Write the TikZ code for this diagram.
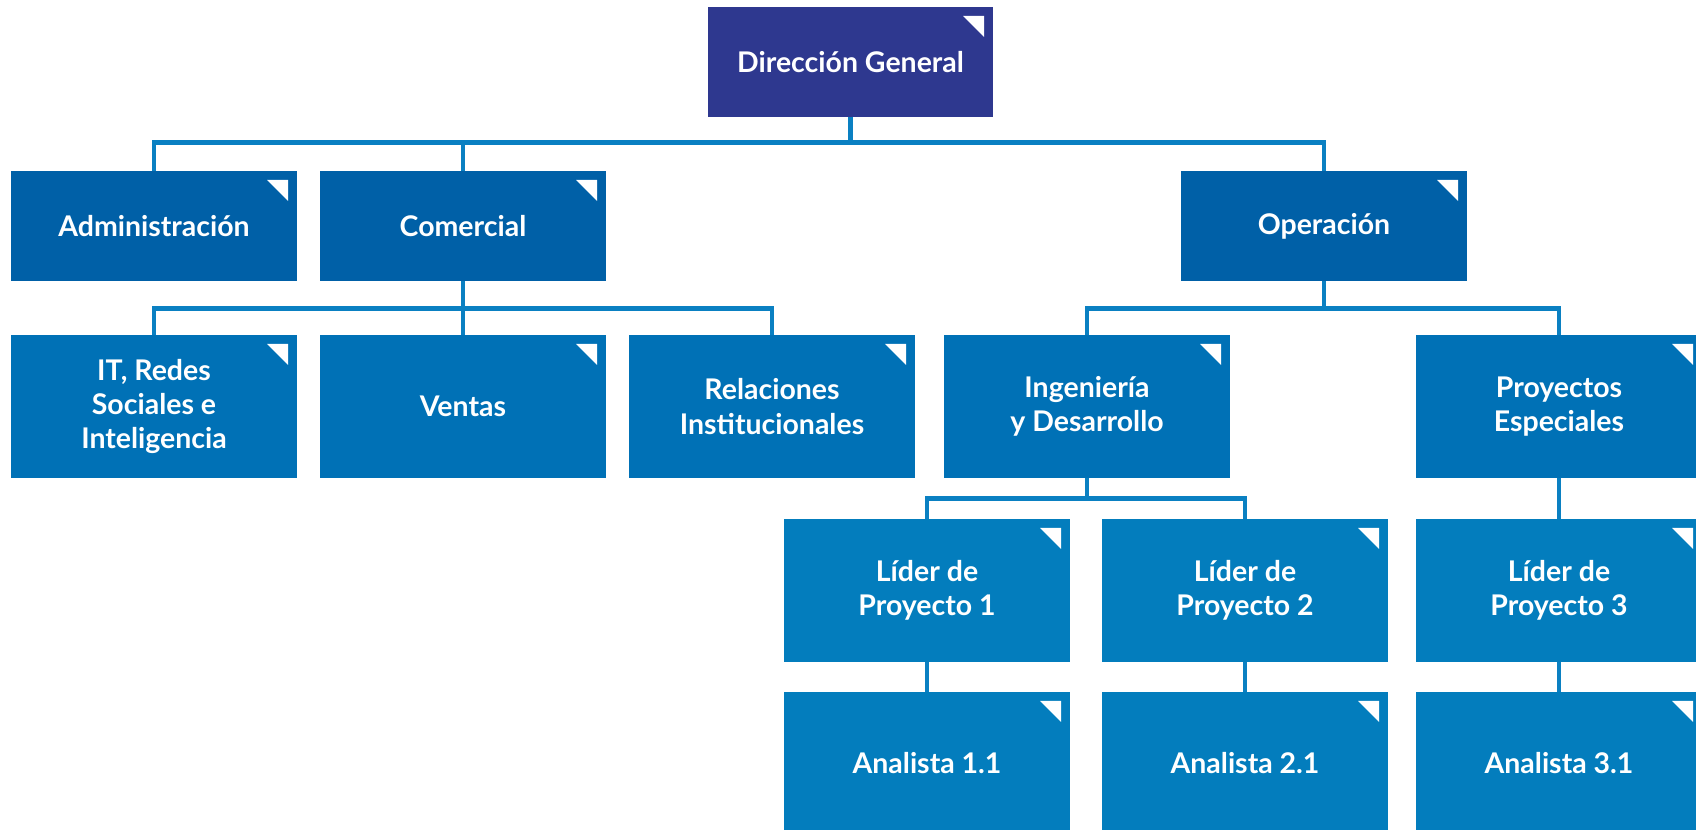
\documentclass[tikz,border=0pt]{standalone}
\usepackage{fontspec}
\setmainfont{Lato}
\definecolor{dgblue}{RGB}{46,56,143}
\definecolor{areablue}{RGB}{0,96,167}
\definecolor{deptblue}{RGB}{0,113,182}
\definecolor{teamblue}{RGB}{3,125,189}
\definecolor{linkblue}{RGB}{10,128,194}
\begin{document}
\begin{tikzpicture}[x=1cm,y=1cm,
  box/.style={rectangle,fill=#1,text=white,inner sep=0pt,align=center,
    font=\fontsize{16.2}{19.6}\selectfont\bfseries,
    minimum width=5.72cm,
    path picture={\fill[white] ([xshift=-0.18cm,yshift=-0.18cm]path picture bounding box.north east)
      -- ++(-0.42,0) -- ++(0.42,-0.42) -- cycle;}},
  lowbox/.style={box=#1,minimum height=2.2cm},
  tallbox/.style={box=#1,minimum height=2.86cm},
  conn/.style={draw=linkblue,line width=2.6pt}]
  \clip (0,0) rectangle (33.92,16.6);

  % top
  \node[lowbox=dgblue,minimum width=5.7cm] (dg) at (17.01,15.36) {Dirección General};

  % areas
  \node[lowbox=areablue] (adm) at (3.08,12.08) {Administración};
  \node[lowbox=areablue] (com) at (9.26,12.08) {Comercial};
  \node[lowbox=areablue] (op)  at (26.48,12.08) {Operación};

  % departments
  \node[tallbox=deptblue] (it)  at (3.08,8.47) {IT, Redes\\Sociales e\\Inteligencia};
  \node[tallbox=deptblue] (ven) at (9.26,8.47) {Ventas};
  \node[tallbox=deptblue] (rel) at (15.44,8.47) {Relaciones\\Institucionales};
  \node[tallbox=deptblue] (ing) at (21.74,8.47) {Ingeniería\\y Desarrollo};
  \node[tallbox=deptblue] (pro) at (31.18,8.47) {Proyectos\\Especiales};

  % project leads and analysts
  \node[tallbox=teamblue] (lp1) at (18.54,4.79) {Líder de\\Proyecto 1};
  \node[tallbox=teamblue] (lp2) at (24.90,4.79) {Líder de\\Proyecto 2};
  \node[tallbox=teamblue] (lp3) at (31.18,4.79) {Líder de\\Proyecto 3};
  \node[tallbox=teamblue] (an1) at (18.54,1.33) {Analista 1.1};
  \node[tallbox=teamblue] (an2) at (24.90,1.33) {Analista 2.1};
  \node[tallbox=teamblue] (an3) at (31.18,1.33) {Analista 3.1};

  % connectors
  \foreach \c in {adm,com,op}
    \draw[conn] (dg.south) -- ++(0,-0.5) -| (\c.north);
  \foreach \c in {it,ven,rel}
    \draw[conn] (com.south) -- ++(0,-0.54) -| (\c.north);
  \foreach \c in {ing,pro}
    \draw[conn] (op.south) -- ++(0,-0.54) -| (\c.north);
  \foreach \c in {lp1,lp2}
    \draw[conn] (ing.south) -- ++(0,-0.4) -| (\c.north);
  \draw[conn] (pro.south) -- (lp3.north);
  \draw[conn] (lp1.south) -- (an1.north);
  \draw[conn] (lp2.south) -- (an2.north);
  \draw[conn] (lp3.south) -- (an3.north);
\end{tikzpicture}
\end{document}
